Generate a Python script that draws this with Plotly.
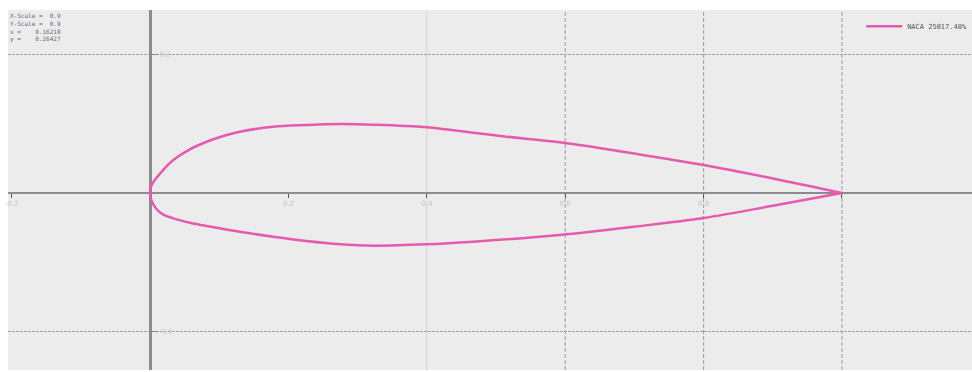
import plotly.graph_objects as go

# Airfoil coordinates (chord fraction), leading edge -> trailing edge
upper_x = [0.0, 0.0004, 0.0015, 0.0035, 0.0072, 0.0192, 0.0337, 0.0578, 0.0819, 0.106, 0.130, 0.178, 0.226, 0.275, 0.323, 0.40, 0.467, 0.515, 0.592, 0.70, 0.80, 0.90, 1.0]
upper_y = [0.0, 0.0048, 0.009, 0.0135, 0.019, 0.0335, 0.0477, 0.0632, 0.0741, 0.0824, 0.0886, 0.0958, 0.0983, 0.0997, 0.0987, 0.0949, 0.0871, 0.0814, 0.0733, 0.057, 0.0405, 0.021, 0.0]
lower_x = [0.0, 0.0004, 0.0024, 0.0096, 0.0192, 0.0337, 0.0578, 0.0819, 0.130, 0.178, 0.226, 0.275, 0.323, 0.40, 0.467, 0.592, 0.70, 0.80, 0.90, 1.0]
lower_y = [0.0, -0.0048, -0.0115, -0.0235, -0.0312, -0.0366, -0.0429, -0.0477, -0.0559, -0.0631, -0.0694, -0.0742, -0.0762, -0.0742, -0.0704, -0.0607, -0.0487, -0.0361, -0.0185, 0.0]

series_name = "NACA 25017.48%"
x_tick_vals = [-0.2, 0.2, 0.4, 0.6, 0.8, 1.0]
x_tick_text = ["-0.2", "0.2", "0.4", "0.6", "0.8", "1"]
y_tick_vals = [-0.2, 0.2]
y_tick_text = ["-0.2", "0.2"]
grid_x_dashed = [0.6, 0.8, 1.0]
grid_x_light = [0.4]
info_lines = ["X-Scale =  0.9", "Y-Scale =  0.9", "x =    0.16218", "y =    0.26427"]

line_style = dict(color="#e65aad", width=2.5, shape="spline", smoothing=1.0)

fig = go.Figure()
fig.add_trace(go.Scatter(x=upper_x, y=upper_y, mode="lines", name=series_name,
                         legendgroup="foil", line=line_style))
fig.add_trace(go.Scatter(x=lower_x, y=lower_y, mode="lines", name=series_name,
                         legendgroup="foil", showlegend=False, line=line_style))

shapes = []
for gx in grid_x_dashed:
    shapes.append(dict(type="line", xref="x", yref="paper", x0=gx, x1=gx, y0=0, y1=1,
                       line=dict(color="#9c9c9c", width=1, dash="4px,2px"), layer="below"))
for gx in grid_x_light:
    shapes.append(dict(type="line", xref="x", yref="paper", x0=gx, x1=gx, y0=0, y1=1,
                       line=dict(color="#d6d6d6", width=1), layer="below"))

fig.update_layout(
    width=972, height=372,
    margin=dict(l=8, r=0, t=10, b=2, autoexpand=False),
    paper_bgcolor="white",
    plot_bgcolor="#ececec",
    shapes=shapes,
    showlegend=True,
    legend=dict(x=0.885, y=0.995, xanchor="left", yanchor="top", bgcolor="rgba(0,0,0,0)",
                font=dict(family="DejaVu Sans Mono", size=7, color="#556"), itemwidth=36),
    xaxis=dict(range=[-0.2052, 1.1879], anchor="free", position=0.4917, layer="below traces",
               showgrid=False, zeroline=False, showline=True, linecolor="#8c8c8c", linewidth=2,
               tickvals=x_tick_vals, ticktext=x_tick_text, ticks="outside", ticklen=4,
               tickcolor="#555", tickfont=dict(size=7, color="#c4c4c4", family="DejaVu Sans")),
    yaxis=dict(range=[-0.2558, 0.2645], anchor="free", position=0.1473, side="right",
               layer="below traces",
               showgrid=True, gridcolor="#a0a0a0", griddash="3px,1px", gridwidth=1,
               zeroline=False, showline=True, linecolor="#8c8c8c", linewidth=2.5,
               tickvals=y_tick_vals, ticktext=y_tick_text, ticks="outside", ticklen=6,
               tickcolor="#888", tickfont=dict(size=7, color="#d0d0d0", family="DejaVu Sans")),
    annotations=[dict(x=0.0, y=1.0, xref="paper", yref="paper", xanchor="left", yanchor="top",
                      text="<br>".join(info_lines), showarrow=False, align="left",
                      font=dict(family="DejaVu Sans Mono", size=6, color="#667"))],
)

fig.write_html("out.html")
